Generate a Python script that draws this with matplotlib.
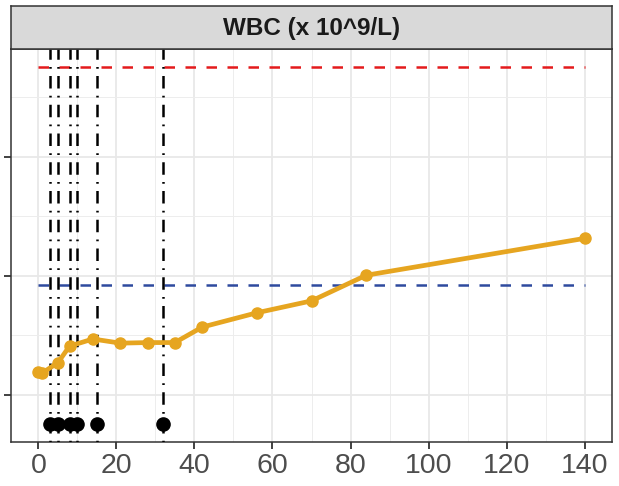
import matplotlib
matplotlib.use("Agg")
import matplotlib.pyplot as plt

plt.rcParams['font.family'] = ['Liberation Sans', 'DejaVu Sans']

# WBC over time
days = [0, 1, 5, 8, 14, 21, 28, 35, 42, 56, 70, 84, 140]
wbc = [4.39, 4.37, 4.54, 4.82, 4.94, 4.87, 4.88, 4.88, 5.14, 5.38, 5.58, 6.01, 6.63]

# event days (vertical lines + black points)
event_days = [3, 5, 8, 10, 15, 32]
event_level = 3.51

upper_limit = 9.51
lower_limit = 5.85
ref_start, ref_end = 0, 140

title = "WBC (x 10^9/L)"

W, H = 619, 486
fig = plt.figure(figsize=(W / 100, H / 100), dpi=100)

# panel
px0, px1, py0, py1 = 11, 612, 49, 442
ax = fig.add_axes([px0 / W, 1 - py1 / H, (px1 - px0) / W, (py1 - py0) / H])
# strip
sy0, sy1 = 6, 49
sax = fig.add_axes([px0 / W, 1 - sy1 / H, (px1 - px0) / W, (sy1 - sy0) / H])

ax.set_xlim(-7, 147)
ax.set_ylim(3.21, 9.81)
ax.set_xticks(range(0, 141, 20))
ax.set_xticks(range(10, 141, 20), minor=True)
ax.set_yticks([4, 6, 8])
ax.set_yticks([5, 7, 9], minor=True)
ax.set_yticklabels([])
ax.grid(True, which='major', color='#E8E8E8', lw=1.3, zorder=0)
ax.grid(True, which='minor', color='#EDEDED', lw=0.7, zorder=0)
ax.set_axisbelow(True)
ax.tick_params(which='minor', length=0)
ax.tick_params(which='major', length=5, width=1.3, color='#333333',
               labelsize=20.5, labelcolor='#4D4D4D', pad=3)
for s in ax.spines.values():
    s.set_color('#333333')
    s.set_linewidth(1.1)

ax.plot([ref_start, ref_end], [upper_limit, upper_limit], color='#E41A1C',
        lw=1.8, linestyle=(0, (4.2, 4.2)), zorder=2)
ax.plot([ref_start, ref_end], [lower_limit, lower_limit], color='#2E4A9E',
        lw=1.8, linestyle=(0, (4.2, 4.2)), zorder=2)

for d in event_days:
    ax.axvline(d, color='black', lw=1.8, linestyle=(0, (0.7, 2.9, 5, 2.9)), zorder=3)

ax.plot(days, wbc, color='#E6A520', lw=3.4, marker='o', ms=8,
        solid_capstyle='butt', zorder=4)
ax.plot(event_days, [event_level] * len(event_days), 'o', color='black',
        ms=9.5, zorder=5)

sax.set_xticks([])
sax.set_yticks([])
sax.set_facecolor('#D9D9D9')
for s in sax.spines.values():
    s.set_color('#333333')
    s.set_linewidth(1.1)
sax.text(0.5, 0.47, title, ha='center', va='center', fontsize=17.5,
         fontweight='bold', color='#1A1A1A', transform=sax.transAxes)

fig.savefig("out.png", dpi=100)
